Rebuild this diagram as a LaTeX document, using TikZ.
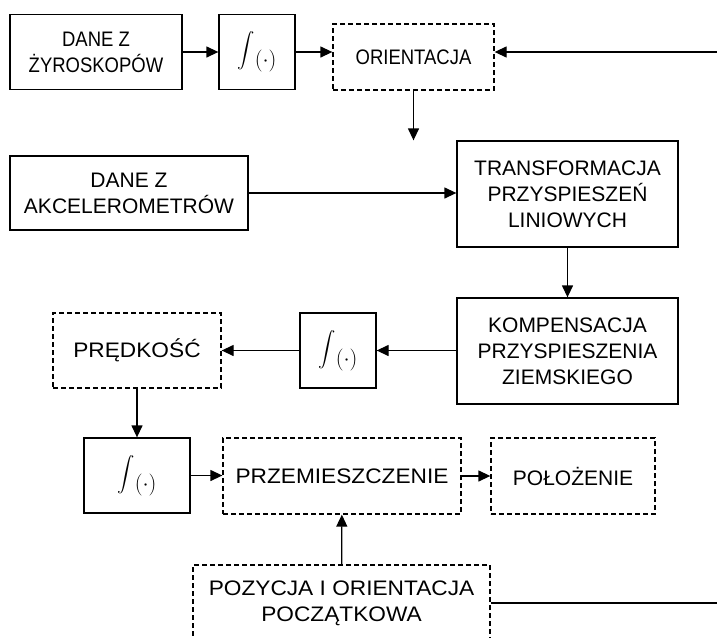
\RequirePackage{fix-cm}
\documentclass[tikz,border=0pt]{standalone}
\usepackage{amsmath}
\usepackage{fontspec}
\setmainfont{Liberation Sans}
\newfontfamily\waska[FakeStretch=0.88]{Liberation Sans}
\newfontfamily\szeroka[FakeStretch=1.08]{Liberation Sans}
\usepackage{tikz}
\usetikzlibrary{arrows.meta}
\tikzset{
  blok/.style = {draw, rectangle, line width = 1.3pt, align = center, font = \fontsize{21}{26}\selectfont},
  blokkreska/.style = {blok, dash pattern = on 5pt off 3pt},
  waski/.style = {font = \fontsize{21}{26}\waska},
  szeroki/.style = {font = \fontsize{21}{26}\szeroka},
  strzalka/.style = {-{Triangle[length = 12pt, width = 11pt]}, line width = 1.3pt},
  linia/.style = {line width = 1.3pt}
}
\newcommand{\calka}{{\fontsize{19}{19}\selectfont$\displaystyle\int$}\raisebox{-1.0ex}{\fontsize{22}{22}\selectfont$(\cdot)$}}

\begin{document}
\begin{tikzpicture}[x = 1pt, y = -1pt]
        \useasboundingbox (0, 0) rectangle (717, 637);
        \clip (0, 0) rectangle (717, 637);

        % Nodes
        \node [blok, waski, minimum width = 172pt, minimum height = 75pt] (zyro) at (96, 52) {DANE Z\\ŻYROSKOPÓW};
        \node [blok, minimum width = 76pt, minimum height = 75pt] (calka1) at (257, 52) {\calka};
        \node [blokkreska, waski, minimum width = 161pt, minimum height = 66pt] (orient) at (413.5, 57) {ORIENTACJA};
        \node [blok, minimum width = 238pt, minimum height = 74pt] (akcel) at (129, 193) {DANE Z\\AKCELEROMETRÓW};
        \node [blok, minimum width = 221pt, minimum height = 106pt] (transf) at (567.5, 194) {TRANSFORMACJA\\PRZYSPIESZEŃ\\LINIOWYCH};
        \node [blok, minimum width = 221pt, minimum height = 106pt] (kompens) at (567.5, 351) {KOMPENSACJA\\PRZYSPIESZENIA\\ZIEMSKIEGO};
        \node [blok, minimum width = 76pt, minimum height = 75pt] (calka2) at (338, 350.5) {\calka};
        \node [blokkreska, szeroki, minimum width = 168pt, minimum height = 75pt] (predkosc) at (137, 350.5) {PRĘDKOŚĆ};
        \node [blok, minimum width = 106pt, minimum height = 75pt] (calka3) at (137, 475.5) {\calka};
        \node [blokkreska, szeroki, minimum width = 238pt, minimum height = 76pt] (przem) at (342, 476) {PRZEMIESZCZENIE};
        \node [blokkreska, minimum width = 164pt, minimum height = 76pt] (polozenie) at (573, 476) {POŁOŻENIE};
        \node [blokkreska, szeroki, minimum width = 297pt, minimum height = 76pt] (pozycja) at (341.5, 603) {POZYCJA I ORIENTACJA\\POCZĄTKOWA};

        % Free ends at the edge
        \coordinate (wej) at (730, 52);
        \coordinate (wyj) at (730, 603);

        % Draw the links
        \draw [strzalka] (zyro) -- (calka1);
        \draw [strzalka] (calka1) -- (orient.west |- calka1);
        \draw [strzalka] (wej) -- (orient.east |- wej);
        \draw [strzalka] (orient.south) -- (orient.south |- transf.north);
        \draw [strzalka] (akcel) -- (transf.west |- akcel);
        \draw [strzalka] (transf) -- (kompens);
        \draw [strzalka] (kompens.west |- calka2) -- (calka2);
        \draw [strzalka] (calka2) -- (predkosc);
        \draw [strzalka] (predkosc) -- (calka3);
        \draw [strzalka] (calka3) -- (przem.west |- calka3);
        \draw [strzalka] (przem) -- (polozenie);
        \draw [strzalka] (pozycja) -- (przem);
        \draw [linia] (pozycja) -- (wyj);

    \end{tikzpicture}
\end{document}
